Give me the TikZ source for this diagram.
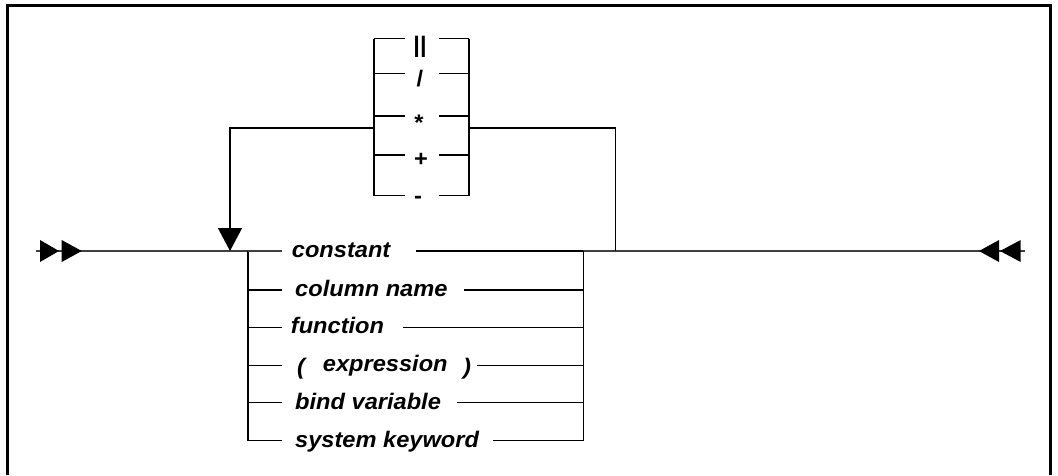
\documentclass[tikz,border=0pt]{standalone}
\usepackage{fontspec}
\setmainfont{Liberation Sans}
\newfontfamily\lblface[FakeStretch=1.05]{Liberation Sans}
\usetikzlibrary{arrows.meta}

\newcommand{\lblfont}{\lblface\bfseries\itshape\fontsize{22.5}{27}\selectfont}
\newcommand{\opfont}{\lblface\bfseries\fontsize{22.5}{27}\selectfont}

\tikzset{
  rail/.style={line width=1.3pt, black},
  mainrail/.style={line width=1.4pt, black!75},
  frame/.style={line width=3pt, black},
  lbl/.style={font=\lblfont, inner sep=0pt, anchor=base west},
  oplbl/.style={font=\opfont, inner sep=0pt, anchor=base},
  tiphead/.style={fill=black},
  loopdown/.style={-{Triangle[length=23pt,width=24pt]}}
}

\begin{document}
\begin{tikzpicture}[x=1pt,y=-1pt]
\useasboundingbox (0,0) rectangle (1058,475);

% outer frame
\draw[frame] (7,475) -- (7,5) -- (1050,5) -- (1050,475);

% ---- rail points ----
\coordinate (start) at (35.7,251);
\coordinate (loopL) at (230,251);
\coordinate (chL) at (248,251);
\coordinate (chR) at (583.3,251);
\coordinate (loopR) at (615.7,251);
\coordinate (finish) at (1025,251);

% operator box
\coordinate (opL) at (374,128);
\coordinate (opR) at (469,128);
\coordinate (loopTL) at (230,128);
\coordinate (loopTR) at (615.7,128);

% ---- main line ----
\draw[mainrail] (start) -- (chL);
\draw[mainrail] (chR) -- (finish);

% entry and exit marks
\fill[tiphead] (40,240) -- (59,251) -- (40,262) -- cycle;
\fill[tiphead] (61.7,240) -- (81.7,251) -- (61.7,262) -- cycle;
\fill[tiphead] (999,240) -- (979,251) -- (999,262) -- cycle;
\fill[tiphead] (1020.7,240) -- (1000,251) -- (1020.7,262) -- cycle;

% ---- repeat loop through the operators ----
\draw[rail] (loopR) -- (loopTR) -- (opR);
\draw[rail, loopdown] (opL) -- (loopTL) -- (loopL);

\draw[rail] (374,38.5) -- (374,195.7);
\draw[rail] (469,38.5) -- (469,195.7);
\foreach \y/\n in {38.5/o1,73.5/o2,116/o3,155/o4,195.7/o5}{
  \coordinate (\n l) at (374,\y);
  \coordinate (\n r) at (469,\y);
  \draw[rail] (\n l) -- ++(31,0);
  \draw[rail] (\n r) -- ++(-30,0);
}
\node[oplbl] (opcat) at (420,52) {||};
\node[oplbl] (opdiv) at (420,86) {/};
\node[oplbl] (opmul) at (419,130) {*};
\node[oplbl] (opadd) at (421,166.5) {+};
\node[oplbl] (opsub) at (418,203) {-};

% ---- choice of operands ----
\draw[rail] (248,251) -- (248,440.7);
\draw[rail] (583.3,251) -- (583.3,440.7);

\node[lbl] (cst) at (291.7,257.5) {constant};
\node[lbl] (col) at (295,296.5) {column name};
\node[lbl] (fun) at (290.7,333.8) {function};
\node[lbl] (lp)  at (297,374.5) {(};
\node[lbl] (expr) at (322.7,371.8) {expression};
\node[lbl] (rp)  at (463,374.5) {)};
\node[lbl] (bnd) at (295,409.2) {bind variable};
\node[lbl] (sys) at (295,447.2) {system keyword};

\foreach \y/\n/\e in {251/r1/416, 290/r2/464, 327.3/r3/403, 365.3/r4/476.7, 402.7/r5/456.7, 440.7/r6/493.3}{
  \coordinate (\n a) at (248,\y);
  \coordinate (\n b) at (281.7,\y);
  \coordinate (\n c) at (\e,\y);
  \coordinate (\n d) at (583.3,\y);
  \draw[rail] (\n c) -- (\n d);
}
\draw[mainrail] (chL) -- (r1b);
\foreach \n in {r2,r3,r4,r5,r6}{
  \draw[rail] (\n a) -- (\n b);
}
\end{tikzpicture}
\end{document}
